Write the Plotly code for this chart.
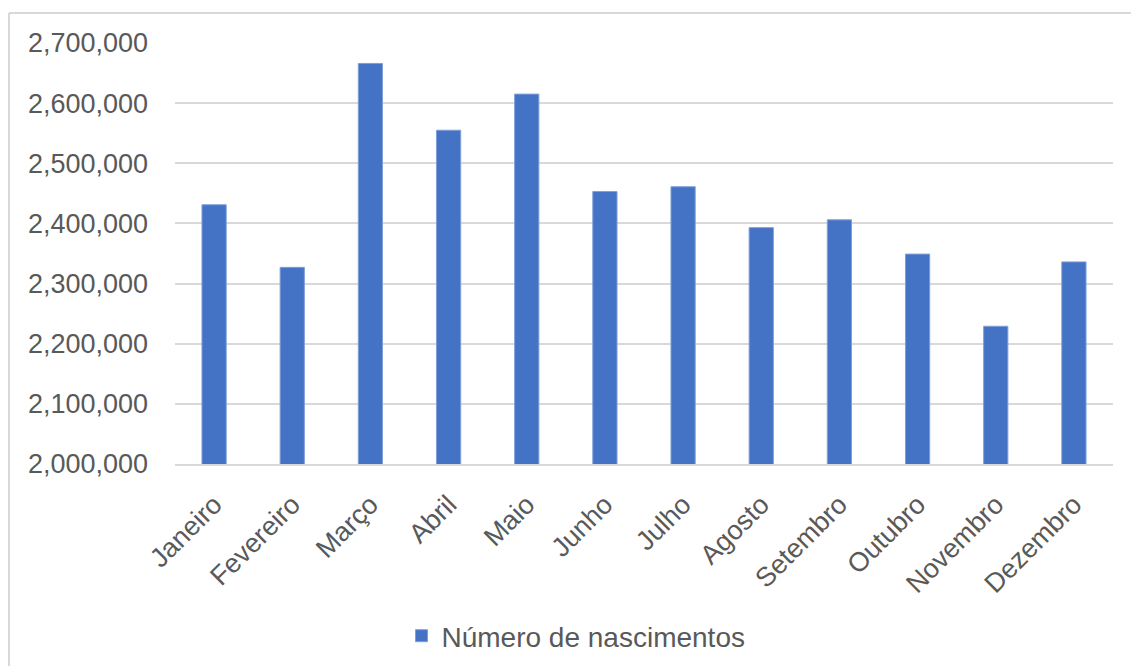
import plotly.graph_objects as go

# Monthly births
meses = ["Janeiro", "Fevereiro", "Março", "Abril", "Maio", "Junho",
         "Julho", "Agosto", "Setembro", "Outubro", "Novembro", "Dezembro"]
nascimentos = [2431000, 2327000, 2666000, 2555000, 2615000, 2453000,
               2461000, 2393000, 2406000, 2349000, 2229000, 2336000]
serie_nome = "Número de nascimentos"

W, H = 1131, 666
L, R, T, B = 175, 18, 43, 202
pw, ph = W - L - R, H - T - B

def px_x(x):
    return (x - L) / pw

def px_y(y):
    return (H - B - y) / ph

font_family = "Liberation Sans, Arial, sans-serif"
text_color = "#595959"
grid_color = "#d9d9d9"

fig = go.Figure(
    go.Bar(
        x=meses,
        y=nascimentos,
        name=serie_nome,
        marker=dict(color="#4472c4", line=dict(color="#7f9fd8", width=1)),
        showlegend=True,
    )
)

fig.update_layout(
    width=W,
    height=H,
    margin=dict(l=L, r=R, t=T, b=B, pad=0, autoexpand=False),
    paper_bgcolor="white",
    plot_bgcolor="white",
    bargap=0.69,
    font=dict(family=font_family, size=27, color=text_color),
    legend=dict(
        orientation="h",
        xref="container",
        yref="container",
        x=576 / W,
        xanchor="center",
        y=(H - 636) / H,
        yanchor="middle",
        font=dict(size=28, color=text_color),
        itemwidth=30,
    ),
    shapes=[
        # chart frame (left and top edges)
        dict(type="line", xref="paper", yref="paper",
             x0=px_x(9), x1=px_x(9), y0=px_y(13), y1=px_y(H + 5),
             line=dict(color=grid_color, width=2)),
        dict(type="line", xref="paper", yref="paper",
             x0=px_x(9), x1=px_x(W + 5), y0=px_y(13), y1=px_y(13),
             line=dict(color=grid_color, width=2)),
    ],
)

fig.update_xaxes(
    tickangle=-45,
    tickfont=dict(size=27, color=text_color),
    showgrid=False,
    showline=True,
    linecolor=grid_color,
    linewidth=2,
    ticks="",
    ticklabelstandoff=12,
    automargin=False,
)

fig.update_yaxes(
    range=[2000000, 2700000],
    dtick=100000,
    tickformat=",",
    tickfont=dict(size=27, color=text_color),
    showgrid=True,
    gridcolor=grid_color,
    gridwidth=2,
    zeroline=False,
    showline=False,
    ticks="",
    ticklabelstandoff=26,
    automargin=False,
)

fig.write_html("out.html")
